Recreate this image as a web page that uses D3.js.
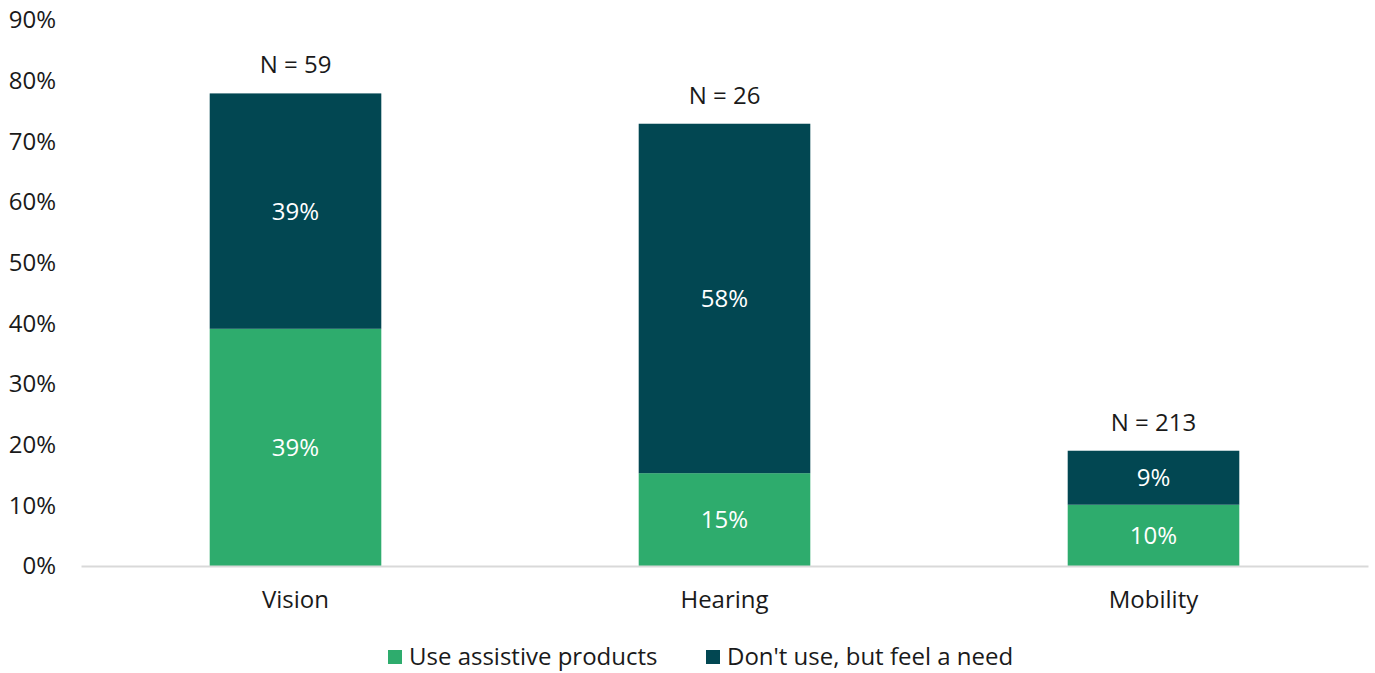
<!DOCTYPE html>
<html><head><meta charset="utf-8">
<script src="https://cdn.jsdelivr.net/npm/d3@7"></script>
<style>body{margin:0;background:#fff}svg{display:block;font-family:"Open Sans",sans-serif}</style>
</head><body><svg id="c" width="1375" height="673"></svg>
<script>
const categories = ["Vision","Hearing","Mobility"];
const useValues = [39.1,15.3,10.1];
const needValues = [38.8,57.6,8.9];
const useLabels = ["39%","15%","10%"];
const needLabels = ["39%","58%","9%"];
const nLabels = ["N = 59","N = 26","N = 213"];
const yTicks = [0,10,20,30,40,50,60,70,80,90];
const seriesNames = ["Use assistive products","Don't use, but feel a need"];
const colors = ["#2eac6d","#024752"];

const FS = 24;
const svg = d3.select("#c");
const x = d3.scaleBand().domain(categories).range([81,1368]).paddingInner(0.6).paddingOuter(0.3);
const y = d3.scaleLinear().domain([0,90]).range([566,20]);

// y tick labels
svg.append("g").selectAll("text").data(yTicks).join("text")
  .attr("x",56).attr("y",d=>y(d)).attr("dy","0.35em").attr("text-anchor","end")
  .attr("font-size",FS).attr("fill","#1a1a1a").text(d=>d+"%");

const g = svg.append("g");
categories.forEach((c,i)=>{
  const u = useValues[i], n = needValues[i];
  g.append("rect").attr("x",x(c)).attr("width",x.bandwidth()).attr("y",y(u)).attr("height",y(0)-y(u)).attr("fill",colors[0]);
  g.append("rect").attr("x",x(c)).attr("width",x.bandwidth()).attr("y",y(u+n)).attr("height",y(u)-y(u+n)).attr("fill",colors[1]);
  const cx = x(c)+x.bandwidth()/2;
  g.append("text").attr("x",cx).attr("y",y(u/2)).attr("dy","0.35em").attr("text-anchor","middle").attr("font-size",FS).attr("fill","#fff").text(useLabels[i]);
  g.append("text").attr("x",cx).attr("y",y(u+n/2)).attr("dy","0.35em").attr("text-anchor","middle").attr("font-size",FS).attr("fill","#fff").text(needLabels[i]);
  g.append("text").attr("x",cx).attr("y",y(u+n)-20).attr("text-anchor","middle").attr("font-size",FS).attr("fill","#1a1a1a").text(nLabels[i]);
});

// x axis
const xa = svg.append("g").attr("transform","translate(0,566)").call(d3.axisBottom(x).tickSize(0).tickPadding(0));
xa.select(".domain").attr("stroke","#d9d9d9").attr("stroke-width",2);
xa.selectAll("text").attr("font-size",FS).attr("fill","#1a1a1a").attr("font-family","'Open Sans',sans-serif").attr("y",34).attr("dy","0.35em");

// legend
const leg = svg.append("g");
const lx = [388,706];
seriesNames.forEach((s,i)=>{
  leg.append("rect").attr("x",lx[i]).attr("y",650).attr("width",14).attr("height",14).attr("fill",colors[i]);
  leg.append("text").attr("x",lx[i]+21).attr("y",657).attr("dy","0.35em").attr("font-size",FS).attr("fill","#1a1a1a").text(s);
});
</script></body></html>
